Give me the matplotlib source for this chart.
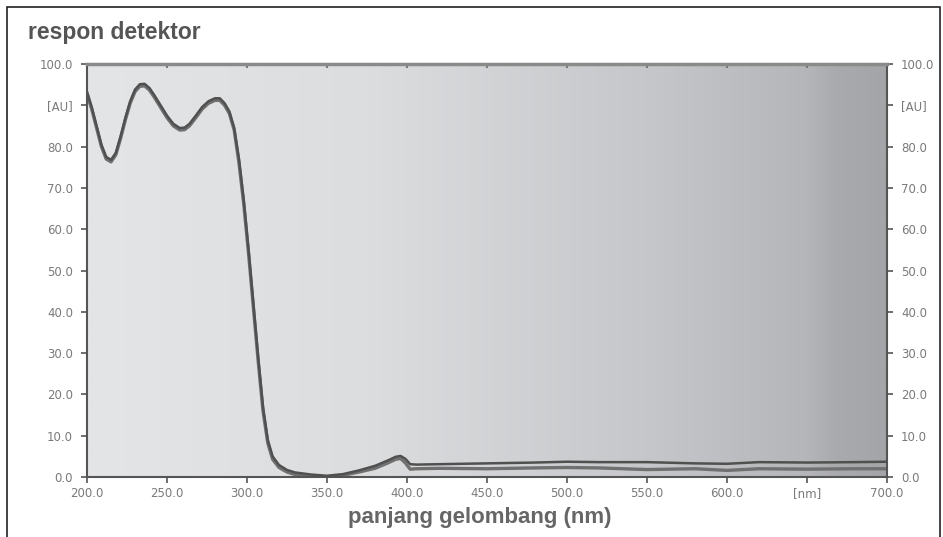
import numpy as np
import matplotlib
matplotlib.use("Agg")
import matplotlib.pyplot as plt
from matplotlib.colors import LinearSegmentedColormap
from matplotlib.patches import Rectangle

# wavelength (nm) and detector response (AU)
wl_a = [200, 203, 206, 209, 212, 215, 218, 221, 224, 227, 230, 233, 236, 239, 242, 246,
        250, 254, 258, 261, 264, 268, 272, 276, 280, 283, 286, 289, 292, 295, 298, 301,
        304, 307, 310, 313, 316, 320, 325, 330, 340, 350, 360, 370, 380, 388, 393, 396,
        399, 402, 406, 420, 450, 480, 500, 520, 550, 580, 600, 620, 650, 680, 700]
resp_a = [93.3, 89.5, 85.0, 80.5, 77.5, 76.8, 78.5, 82.5, 87.0, 91.0, 93.8, 95.1, 95.2, 94.2, 92.5, 90.0,
          87.5, 85.5, 84.5, 84.6, 85.5, 87.5, 89.6, 91.0, 91.7, 91.7, 90.5, 88.5, 84.5, 77.0, 67.0, 55.0,
          42.0, 29.0, 17.0, 9.0, 5.0, 2.9, 1.7, 1.1, 0.6, 0.3, 0.7, 1.6, 2.7, 4.0, 4.9, 5.1,
          4.4, 3.1, 3.0, 3.1, 3.3, 3.5, 3.7, 3.6, 3.6, 3.3, 3.2, 3.6, 3.5, 3.6, 3.7]

wl_b = [200, 203, 206, 209, 212, 215, 218, 221, 224, 227, 230, 233, 236, 239, 242, 246,
        250, 254, 258, 261, 264, 268, 272, 276, 280, 283, 286, 289, 292, 295, 298, 301,
        304, 307, 310, 313, 316, 320, 325, 330, 340, 350, 360, 370, 380, 388, 393, 396,
        399, 402, 406, 420, 450, 480, 500, 520, 550, 580, 600, 620, 650, 680, 700]
resp_b = [92.8, 89.0, 84.5, 80.0, 77.0, 76.3, 78.0, 82.0, 86.5, 90.5, 93.3, 94.6, 94.7, 93.7, 92.0, 89.5,
          87.0, 85.0, 84.0, 84.1, 85.0, 87.0, 89.1, 90.5, 91.2, 91.2, 90.0, 88.0, 84.0, 76.0, 66.0, 54.0,
          41.0, 28.0, 16.0, 8.2, 4.3, 2.3, 1.2, 0.6, 0.3, 0.0, 0.4, 1.2, 2.1, 3.4, 4.3, 4.5,
          3.4, 1.9, 2.0, 2.1, 2.0, 2.2, 2.3, 2.2, 1.8, 2.0, 1.6, 2.0, 1.9, 2.0, 2.0]

x_ticks = [200, 250, 300, 350, 400, 450, 500, 550, 600, 650, 700]
x_tick_labels = ["200.0", "250.0", "300.0", "350.0", "400.0", "450.0", "500.0",
                 "550.0", "600.0", "[nm]", "700.0"]
y_ticks = [0, 10, 20, 30, 40, 50, 60, 70, 80, 90, 100]
y_tick_labels = ["0.0", "10.0", "20.0", "30.0", "40.0", "50.0", "60.0", "70.0",
                 "80.0", "[AU]", "100.0"]

fig = plt.figure(figsize=(9.43, 5.37), dpi=100)
fig.patch.set_facecolor("white")
fig.patches.append(Rectangle((7/943, -0.01), (940-7)/943, 1 - 7/537 + 0.01,
                             transform=fig.transFigure, fill=False,
                             edgecolor="#222222", linewidth=1.2))

ax = fig.add_axes([87/943, 60/537, 800/943, 413/537])

cmap = LinearSegmentedColormap.from_list(
    "bg", [(0.0, "#e4e5e7"), (0.35, "#dcdddf"), (0.7, "#c6c7ca"),
           (0.9, "#b5b6b9"), (0.94, "#a9aaad"), (1.0, "#a4a5a8")])
grad = np.linspace(0, 1, 400).reshape(1, -1)
ax.imshow(grad, extent=[200, 700, 0, 100], aspect="auto", cmap=cmap,
          zorder=0, interpolation="bilinear")

ax.plot(wl_b, resp_b, color="#707070", linewidth=2.4, zorder=2,
        solid_capstyle="round", solid_joinstyle="round")
ax.plot(wl_a, resp_a, color="#505050", linewidth=1.8, zorder=3,
        solid_capstyle="round", solid_joinstyle="round")

ax.set_xlim(200, 700)
ax.set_ylim(0, 100)

ax.set_xticks(x_ticks)
ax.set_xticklabels(x_tick_labels)
ax.set_yticks(y_ticks)
ax.set_yticklabels(y_tick_labels)

ax.tick_params(axis="both", colors="#555555", labelcolor="#7a7a7a", labelsize=8.5,
               length=4, width=1.2)
ax.tick_params(axis="y", direction="out", left=True, right=True,
               labelleft=True, labelright=True, pad=6)
ax.tick_params(axis="x", direction="out", bottom=True, top=False,
               labelbottom=True, labeltop=False, pad=3)
sec = ax.secondary_xaxis("top")
sec.set_xticks(x_ticks[1:-1])
sec.tick_params(direction="in", length=3, width=1.5, colors="#777777", labeltop=False)
sec.spines["top"].set_visible(False)

for side in ["left", "right", "bottom"]:
    ax.spines[side].set_color("#555555")
    ax.spines[side].set_linewidth(1.5)
ax.spines["top"].set_color("#8a8a8a")
ax.spines["top"].set_linewidth(2.5)

fig.text(28/943, 1 - 32/537, "respon detektor", fontsize=16.5, fontweight="bold",
         color="#555555", ha="left", va="center", family="Liberation Sans")
fig.text(480/943, 1 - 517/537, "panjang gelombang (nm)", fontsize=16, fontweight="bold",
         color="#666666", ha="center", va="center", family="Liberation Sans")

fig.savefig("out.png", dpi=100, facecolor="white")
